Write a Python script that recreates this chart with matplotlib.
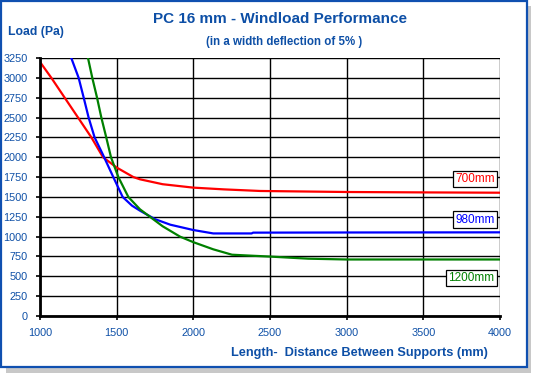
import matplotlib.pyplot as plt
from matplotlib.patches import Rectangle

plt.rcParams["font.family"] = ["Liberation Sans", "DejaVu Sans"]

TXT = "#0D4FA6"

# span (mm) vs load (Pa)
x_700 = [1000, 1074, 1161, 1248, 1335, 1411, 1500, 1609, 1652, 1800, 2000, 2200, 2435, 3000, 3500, 4000]
y_700 = [3200, 3000, 2750, 2500, 2250, 2000, 1870, 1750, 1722, 1660, 1617, 1595, 1575, 1562, 1557, 1553]

x_980 = [1204, 1252, 1285, 1317, 1356, 1411, 1478, 1539, 1600, 1652, 1750, 1850, 2000, 2130, 2380, 2390, 3000, 3500, 4000]
y_980 = [3250, 3000, 2750, 2500, 2250, 2030, 1750, 1500, 1390, 1327, 1220, 1150, 1083, 1040, 1040, 1050, 1052, 1053, 1054]

x_1200 = [1313, 1341, 1372, 1400, 1432, 1463, 1511, 1576, 1652, 1800, 1913, 2000, 2130, 2252, 2376, 2506, 2626, 2750, 3000, 3500, 4000]
y_1200 = [3250, 3000, 2750, 2500, 2250, 2000, 1750, 1500, 1344, 1130, 1000, 930, 840, 772, 760, 748, 735, 722, 712, 712, 712]

labels = ["700mm", "980mm", "1200mm"]
label_y = [1725, 1215, 478]
colors = ["#FF0000", "#0000FF", "#008000"]

fig = plt.figure(figsize=(5.39, 3.81), dpi=100)

# frame with shadow
fig.patches.append(Rectangle((6 / 539, 1 - 373 / 381), 525 / 539, 367 / 381,
                             transform=fig.transFigure, facecolor="#C8C8C8",
                             edgecolor="none", zorder=-3))
fig.patches.append(Rectangle((1 / 539, 1 - 367 / 381), 526 / 539, 366 / 381,
                             transform=fig.transFigure, facecolor="white",
                             edgecolor="#1050B0", linewidth=1.6, zorder=-2))

ax = fig.add_axes([40 / 539, 1 - 316 / 381, 460 / 539, 258 / 381])
ax.set_facecolor("none")
ax.set_zorder(1)

for xs, ys, c in zip([x_700, x_980, x_1200], [y_700, y_980, y_1200], colors):
    ax.plot(xs, ys, color=c, linewidth=1.6, zorder=3, clip_on=True)

for lab, ly, c in zip(labels, label_y, colors):
    ax.text(3965, ly, lab, color=c, fontsize=8.5, ha="right", va="center", zorder=4,
            bbox=dict(boxstyle="square,pad=0.2", facecolor="white", edgecolor="black", linewidth=0.9))

ax.set_xlim(1000, 4000)
ax.set_ylim(0, 3250)
ax.set_xticks(range(1000, 4001, 500))
ax.set_yticks(range(0, 3251, 250))
ax.grid(True, color="black", linewidth=1.0)
ax.set_axisbelow(True)
for s in ["top", "right"]:
    ax.spines[s].set_visible(False)
for s in ["left", "bottom"]:
    ax.spines[s].set_linewidth(2.0)
    ax.spines[s].set_zorder(5)
ax.tick_params(direction="out", length=3, width=1.2, labelsize=7.8, labelcolor=TXT, pad=6)

fig.text(280 / 539, 1 - 19 / 381, "PC 16 mm - Windload Performance", color=TXT,
         fontsize=11, fontweight="bold", ha="center", va="center")
fig.text(284 / 539, 1 - 42 / 381, "(in a width deflection of 5% )", color=TXT,
         fontsize=8.3, fontweight="bold", ha="center", va="center")
fig.text(8 / 539, 1 - 32 / 381, "Load (Pa)", color=TXT,
         fontsize=8.8, fontweight="bold", ha="left", va="center")
fig.text(488 / 539, 1 - 353 / 381, "Length-  Distance Between Supports (mm)", color=TXT,
         fontsize=9.2, fontweight="bold", ha="right", va="center")

fig.savefig("out.png", dpi=100)
